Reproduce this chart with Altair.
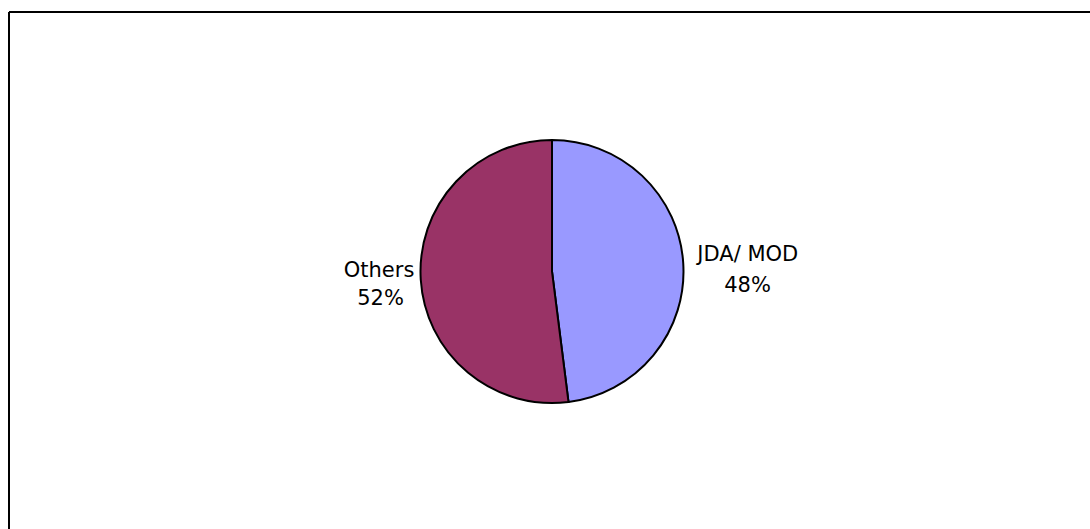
import altair as alt
import pandas as pd

categories = ["JDA/ MOD", "Others"]
shares = [48, 52]
pct_labels = ["48%", "52%"]
slice_order = [0, 1]
colors = ["#9999FF", "#993366"]

df = pd.DataFrame({"category": categories, "share": shares, "pct": pct_labels, "order": slice_order})

CX, CY, R = 552, 271.5, 131.5
FONT = "DejaVu Sans"
FS = 21

arc = alt.Chart(df).mark_arc(radius=R, stroke="black", strokeWidth=2).encode(
    theta=alt.Theta("share:Q", stack=True),
    color=alt.Color("category:N", scale=alt.Scale(domain=categories, range=colors), legend=None),
    order=alt.Order("order:Q"),
    x=alt.value(CX),
    y=alt.value(CY),
)

base = alt.Chart(df).transform_window(
    cum="sum(share)", sort=[alt.SortField("order")]
).transform_calculate(mid="datum.cum - datum.share / 2")


def label(cat, field, radius, dy):
    return base.transform_filter(alt.datum.category == cat).mark_text(
        radius=radius, dy=dy, align="center", baseline="alphabetic",
        font=FONT, fontSize=FS, color="black"
    ).encode(
        theta=alt.Theta("mid:Q", stack=None),
        text=alt.Text(f"{field}:N"),
        x=alt.value(CX),
        y=alt.value(CY),
    )


t1 = label("JDA/ MOD", "category", 196.2, 2)
t2 = label("JDA/ MOD", "pct", 195.9, 32.5)
t3 = label("Others", "category", 173.3, -5.4)
t4 = label("Others", "pct", 171.8, 22.7)

one = alt.Data(values=[{}])
top_border = alt.Chart(one).mark_rule(color="black", strokeWidth=2).encode(
    x=alt.value(9), x2=alt.value(1090), y=alt.value(12)
)
left_border = alt.Chart(one).mark_rule(color="black", strokeWidth=2).encode(
    x=alt.value(9), y=alt.value(12), y2=alt.value(529)
)

chart = alt.layer(top_border, left_border, arc, t1, t2, t3, t4).properties(
    width=1090, height=529, autosize="none", padding=0, background="white"
).configure_view(stroke=None)

chart.save("out.html", embed_options={"renderer": "svg", "actions": False})
